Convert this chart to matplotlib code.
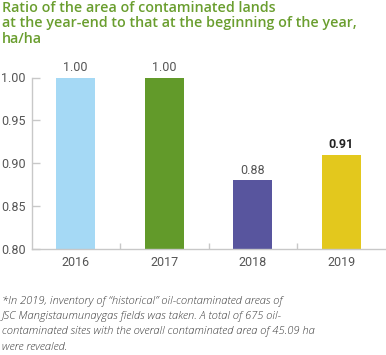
import matplotlib
matplotlib.use("Agg")
import matplotlib.pyplot as plt

years = ["2016", "2017", "2018", "2019"]
values = [1.00, 1.00, 0.88, 0.91]
value_labels = ["1.00", "1.00", "0.88", "0.91"]
colors = ["#a5d9f5", "#629a2a", "#58559e", "#e3c81d"]
yticks = [0.80, 0.85, 0.90, 0.95, 1.00]
title = "Ratio of the area of contaminated lands\nat the year-end to that at the beginning of the year,\nha/ha"
note = ("*In 2019, inventory of \u201chistorical\u201d oil-contaminated areas of\n"
        "JSC Mangistaumunaygas fields was taken. A total of 675 oil-\n"
        "contaminated sites with the overall contaminated area of 45.09 ha\n"
        "were revealed.")

fig = plt.figure(figsize=(3.86, 3.55), dpi=100)
ax = fig.add_axes([31.5/386, 106/355, 354/386, 171.5/355])

x = range(len(years))
ax.bar(x, values, width=0.44, color=colors, zorder=2)
ax.set_xlim(-0.5, 3.5)
ax.set_ylim(0.80, 1.00)
ax.set_yticks(yticks)
ax.set_yticklabels([f"{v:.2f}" for v in yticks])
ax.set_xticks(list(x))
ax.set_xticklabels(years)
ax.set_xticks([0.5, 1.5, 2.5], minor=True)

for s in ["top", "right"]:
    ax.spines[s].set_visible(False)
for s in ["left", "bottom"]:
    ax.spines[s].set_color("#c8c8c8")
    ax.spines[s].set_linewidth(1.0)

ax.tick_params(axis="y", direction="in", length=6, color="#c8c8c8", width=1,
               labelsize=9, labelcolor="#555555", pad=4)
ax.tick_params(axis="x", which="major", length=0, labelsize=9, labelcolor="#555555", pad=5)
ax.tick_params(axis="x", which="minor", direction="in", length=4, color="#c8c8c8", width=1)
for lab in ax.get_xticklabels() + ax.get_yticklabels():
    lab.set_fontfamily("Roboto")

for i, (v, lab) in enumerate(zip(values, value_labels)):
    bold = (i == len(values) - 1)
    ax.annotate(lab, (i, v), xytext=(0, 2.5), textcoords="offset points",
                ha="center", va="bottom", fontsize=9, family="Roboto",
                color="#222222" if bold else "#555555",
                fontweight="bold" if bold else "normal")

fig.text(2/386, 1 - 0.5/355, title, ha="left", va="top", fontsize=10.3,
         family="Open Sans", fontweight="semibold", color="#6a9e2f",
         linespacing=1.14)

fig.text(2/386, 1 - 296/355, note, ha="left", va="top", fontsize=8.0,
         family="Open Sans", style="italic", fontweight="light", color="#3c3c3c",
         linespacing=1.52)

fig.savefig("out.png", dpi=100)
